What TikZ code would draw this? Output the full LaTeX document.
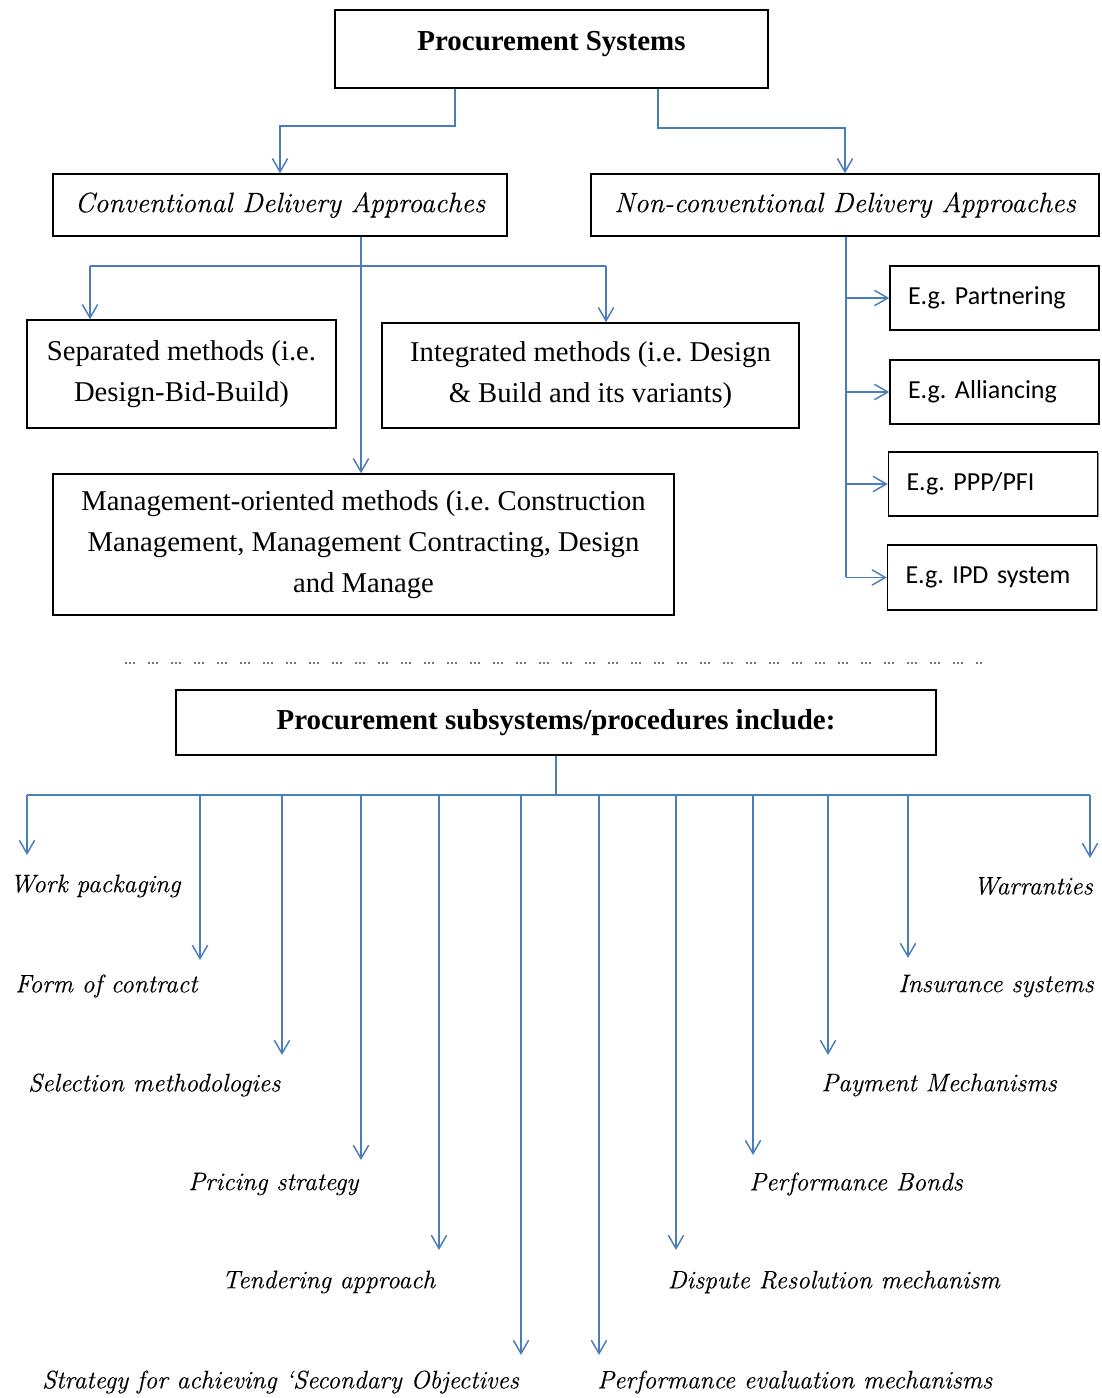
\documentclass[tikz,border=0pt]{standalone}
\usepackage{fontspec}
\setmainfont{Liberation Serif}
\newfontfamily\calib{Carlito}
\newfontfamily\serifit{lmroman12-italic.otf}[FakeBold=0.3]
\usetikzlibrary{arrows.meta,shadows}
\definecolor{linkblue}{RGB}{74,126,187}
\begin{document}
\frenchspacing
\begin{tikzpicture}[x=0.75pt,y=-0.75pt,
  box/.style={draw=black, line width=1.1pt, fill=white, inner sep=0pt, align=center,
    drop shadow={shadow xshift=1.1pt, shadow yshift=-1.1pt, fill=black, opacity=0.45}},
  link/.style={draw=linkblue, line width=1.1pt},
  arr/.style={link, -{Straight Barb[length=10pt,width=11.5pt]}},
  bodytext/.style={font=\fontsize{21.5}{30.75}\selectfont},
  headtext/.style={font=\fontsize{21.7}{28}\selectfont\bfseries},
  apprtext/.style={font=\fontsize{21}{28}\selectfont\serifit},
  eg/.style={box, font=\fontsize{19.5}{24}\selectfont\calib, align=left,
    inner xsep=13.5pt, text width=129.75pt, minimum height=48pt},
  item/.style={font=\fontsize{19}{24}\selectfont\serifit, inner sep=0pt},
]
\useasboundingbox[fill=white] (0,0) rectangle (1101,1398);

% ---- upper part: procurement systems ----
\node[box, minimum width=433*0.75pt, minimum height=78*0.75pt,
      label={[headtext, yshift=3.75pt]center:Procurement Systems}] (ps) at (551.5,49) {};

\node[box, apprtext, minimum width=454*0.75pt, minimum height=62*0.75pt] (conv) at (280,205)
  {Conventional Delivery Approaches};
\node[box, apprtext, minimum width=508*0.75pt, minimum height=62*0.75pt] (nonconv) at (845,205)
  {Non-conventional Delivery Approaches};

\node[box, bodytext, minimum width=309*0.75pt, minimum height=108*0.75pt] (sep) at (181.5,374)
  {Separated methods (i.e.\\Design-Bid-Build)};
\node[box, bodytext, minimum width=417*0.75pt, minimum height=105*0.75pt] (integ) at (590.5,375.5)
  {Integrated methods (i.e. Design\\\& Build and its variants)};
\node[box, bodytext, minimum width=621*0.75pt, minimum height=141*0.75pt] (mgmt) at (363.5,544.5)
  {Management-oriented methods (i.e. Construction\\Management, Management Contracting, Design\\and Manage};

\node[eg] (part) at (994.5,298) {E.g. Partnering};
\node[eg] (alli) at (994.5,392) {E.g. Alliancing};
\node[eg] (ppp)  at (993,484)   {E.g. PPP/PFI};
\node[eg, minimum height=48.75pt] (ipd) at (992,577.5) {E.g. IPD system};

% connectors from the top box
\coordinate (psL) at (455,126);
\coordinate (psR) at (658,128);
\draw[arr] (ps.south -| psL) -- (psL) -| (conv);
\draw[arr] (ps.south -| psR) -- (psR) -| (nonconv);

% conventional branch
\coordinate (cL) at (90,266);
\coordinate (cM) at (361,266);
\coordinate (cR) at (606,266);
\draw[arr] (conv.south -| cM) -- (cM |- mgmt.north);
\draw[link] (cL) -- (cR);
\draw[arr] (cL) -- (cL |- sep.north);
\draw[arr] (cR) -- (cR |- integ.north);

% non-conventional branch
\coordinate (nEnd) at (846,577);
\draw[link] (nonconv.south -| nEnd) -- (nEnd);
\foreach \b in {part,alli,ppp,ipd}
  \draw[arr] (nEnd |- \b.west) -- (\b.west);

% separator
\coordinate (dotL) at (125,663);
\coordinate (dotR) at (982,663);
\draw[black!55, line width=1.5pt,
      dash pattern=on 1.5pt off 1.5pt on 1.5pt off 1.5pt on 1.5pt off 9.75pt] (dotL) -- (dotR);

% ---- lower part: subsystems ----
\node[box, headtext, minimum width=760*0.75pt, minimum height=65*0.75pt] (sub) at (556,722.5)
  {Procurement subsystems/procedures include:};

\coordinate (barL) at (27,795);
\coordinate (barR) at (1090,795);
\draw[link] (sub.south) -- (sub.south |- barL);
\draw[link] (barL) -- (barR);

% items on the left
\node[item, anchor=west] (work)  at (10,886)   {Work packaging};
\node[item, anchor=west] (form)  at (15,986)   {Form of contract};
\node[item, anchor=west] (selm)  at (28,1085)  {Selection methodologies};
\node[item, anchor=west] (price) at (188,1184) {Pricing strategy};
\node[item, anchor=west] (tend)  at (222,1282) {Tendering approach};
\node[item, anchor=west] (strat) at (42,1382)  {Strategy for achieving ‘Secondary Objectives};
% items on the right
\node[item, anchor=west] (perfev) at (597,1382) {Performance evaluation mechanisms};
\node[item, anchor=east] (disp)   at (1000,1282) {Dispute Resolution mechanism};
\node[item, anchor=east] (bonds)  at (963,1184)  {Performance Bonds};
\node[item, anchor=east] (pay)    at (1057,1085) {Payment Mechanisms};
\node[item, anchor=east] (ins)    at (1094,986)  {Insurance systems};
\node[item, anchor=east] (warr)   at (1093,886)  {Warranties};

% arrow tips above the items
\coordinate (tWork)   at (27,855);
\coordinate (tForm)   at (200,960);
\coordinate (tSelm)   at (282,1055);
\coordinate (tPrice)  at (361,1160);
\coordinate (tTend)   at (439,1250);
\coordinate (tStrat)  at (521,1355);
\coordinate (tPerfev) at (599,1355);
\coordinate (tDisp)   at (676,1250);
\coordinate (tBonds)  at (753,1155);
\coordinate (tPay)    at (828,1055);
\coordinate (tIns)    at (908,958);
\coordinate (tWarr)   at (1090,858);
\foreach \t in {tWork,tForm,tSelm,tPrice,tTend,tStrat,tPerfev,tDisp,tBonds,tPay,tIns,tWarr}
  \draw[arr] (barL -| \t) -- (\t);
\end{tikzpicture}
\end{document}
